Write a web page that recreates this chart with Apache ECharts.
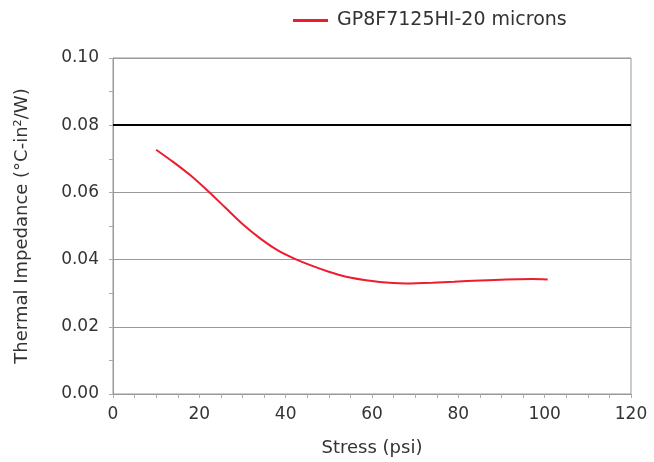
<!DOCTYPE html>
<html>
<head>
<meta charset="utf-8">
<script src="https://cdn.jsdelivr.net/npm/echarts@6/dist/echarts.min.js"></script>
<style>html,body{margin:0;padding:0;background:#fff}#c{width:654px;height:462px}</style>
</head>
<body>
<div id="c"></div>
<script>
const seriesName = 'GP8F7125HI-20 microns';
const stress = [10, 14, 18, 22, 26, 30, 34, 38, 42, 46, 50, 54, 60, 64, 68, 74, 79, 85, 91, 97, 100.7];
const impedance = [0.0727, 0.0690, 0.0650, 0.0604, 0.0555, 0.0506, 0.0464, 0.0429, 0.0403, 0.0382, 0.0364, 0.0349, 0.0336, 0.0331, 0.0329, 0.0331, 0.0334, 0.0338, 0.0341, 0.0342, 0.0341];
const limitValue = 0.08;
const xTicks = [0, 20, 40, 60, 80, 100, 120];
const yTicks = [0.00, 0.02, 0.04, 0.06, 0.08, 0.10];

const font = '"DejaVu Sans", "Noto Sans", sans-serif';
const chart = echarts.init(document.getElementById('c'), null, {renderer: 'canvas'});
chart.setOption({
  animation: false,
  textStyle: {fontFamily: font},
  legend: {
    top: 6, left: 288,
    itemWidth: 35, itemHeight: 3, itemGap: 10,
    icon: 'rect',
    textStyle: {fontSize: 19, color: '#333', fontFamily: font, padding: [0,0,0,4]},
    data: [seriesName]
  },
  grid: {left: 113, right: 23, top: 58, bottom: 65, show: true, borderColor: '#999', borderWidth: 1},
  xAxis: {
    type: 'value', min: 0, max: 120, interval: 20,
    name: 'Stress (psi)', nameLocation: 'middle', nameGap: 45,
    nameTextStyle: {fontSize: 18, color: '#333', fontFamily: font},
    axisLine: {lineStyle: {color: '#999'}},
    axisTick: {show: true, length: 4, lineStyle: {color: '#aaa'}},
    minorTick: {show: true, splitNumber: 4, length: 4, lineStyle: {color: '#aaa'}},
    splitLine: {show: false},
    axisLabel: {fontSize: 17, color: '#333', margin: 12, fontFamily: font,
      formatter: v => xTicks.includes(v) ? String(v) : ''}
  },
  yAxis: {
    type: 'value', min: 0, max: 0.1, interval: 0.02,
    name: 'Thermal Impedance (°C-in²/W)', nameLocation: 'middle', nameGap: 82,
    nameTextStyle: {fontSize: 18, color: '#333', fontFamily: font},
    axisLine: {show: true, lineStyle: {color: '#999'}},
    axisTick: {show: true, length: 4, lineStyle: {color: '#aaa'}},
    minorTick: {show: true, splitNumber: 2, length: 4, lineStyle: {color: '#aaa'}},
    splitLine: {show: true, lineStyle: {color: '#999', width: 1}},
    axisLabel: {fontSize: 17, color: '#333', margin: 14, fontFamily: font,
      formatter: v => yTicks.some(t => Math.abs(t - v) < 1e-9) ? v.toFixed(2) : ''}
  },
  series: [{
    name: seriesName,
    type: 'line',
    smooth: 0.25,
    showSymbol: false,
    symbol: 'none',
    data: stress.map((s, i) => [s, impedance[i]]),
    lineStyle: {color: '#ee1c2e', width: 2},
    itemStyle: {color: '#ee1c2e'},
    markLine: {
      silent: true, symbol: 'none', label: {show: false},
      lineStyle: {color: '#000', width: 2, type: 'solid'},
      data: [{yAxis: limitValue}]
    }
  }]
});
</script>
</body>
</html>
